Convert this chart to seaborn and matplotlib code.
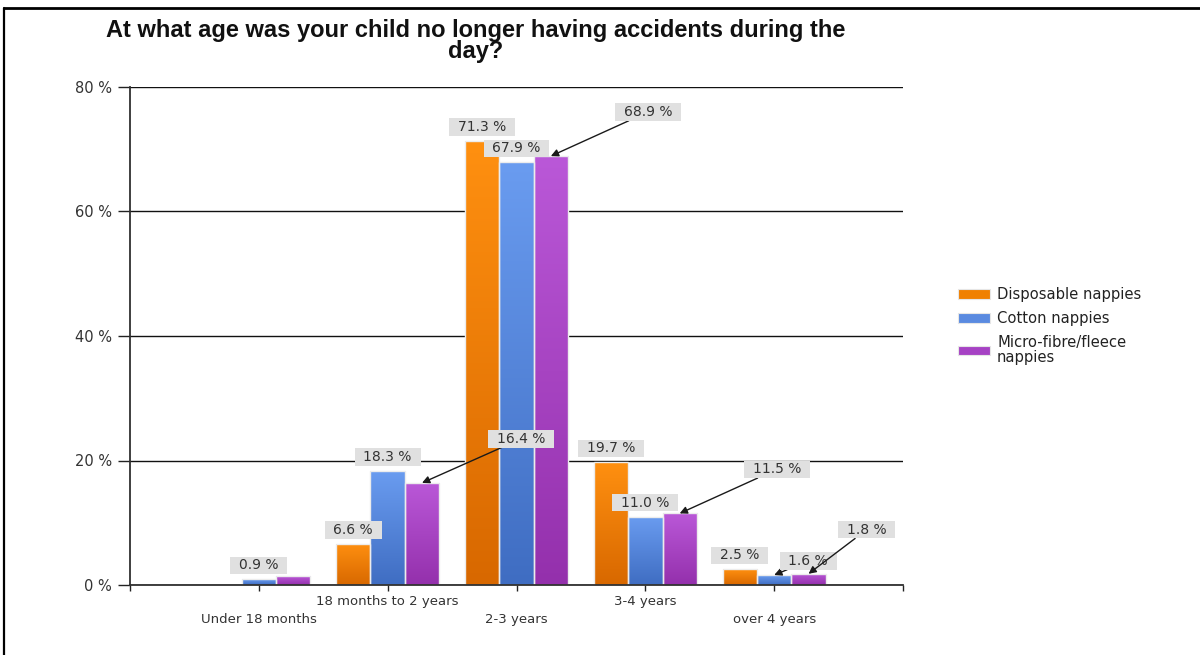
import matplotlib
matplotlib.use("Agg")
import matplotlib.pyplot as plt
import seaborn as sns
import numpy as np
import pandas as pd
from matplotlib.colors import LinearSegmentedColormap
from matplotlib.patches import Patch
from matplotlib.lines import Line2D

# ---------------- data ----------------
categories = ["Under 18 months", "18 months to 2 years", "2-3 years", "3-4 years", "over 4 years"]
series = ["Disposable nappies", "Cotton nappies", "Micro-fibre/fleece nappies"]
disposable = [0.0, 6.6, 71.3, 19.7, 2.5]
cotton = [0.9, 18.3, 67.9, 11.0, 1.6]
microfibre = [1.4, 16.4, 68.9, 11.5, 1.8]
yticks = [0, 20, 40, 60, 80]
ytick_labels = ["0 %", "20 %", "40 %", "60 %", "80 %"]
title = "At what age was your child no longer having accidents during the\nday?"
legend_labels = ["Disposable nappies", "Cotton nappies", "Micro-fibre/fleece\nnappies"]

# ---------------- styling ----------------
top_colors = ["#FF9010", "#6A9CF0", "#BA58D8"]
bottom_colors = ["#D86800", "#3F6DC2", "#9430AC"]
legend_colors = ["#F08000", "#5A8AE0", "#A642C4"]
text_color = "#333333"

# label placement (pixel offsets of label centre from bar top centre)
default_offset = (0, 14, False)
label_offsets = {
    (2, 1): (99, 44, True),
    (2, 2): (97, 44, True),
    (2, 3): (97, 44, True),
    (1, 4): (34, 14, True),
    (2, 4): (58, 44, True),
}
hidden_labels = {(2, 0)}

sns.set_theme(style="white")
plt.rcParams["font.family"] = ["DejaVu Sans"]

df = pd.DataFrame({
    "category": categories * 3,
    "series": [series[0]] * 5 + [series[1]] * 5 + [series[2]] * 5,
    "value": disposable + cotton + microfibre,
})

fig = plt.figure(figsize=(12, 6.55), dpi=100)
ax = fig.add_axes([130 / 1200, 70 / 655, 773 / 1200, 498 / 655])

sns.barplot(data=df, x="category", y="value", hue="series", order=categories,
            hue_order=series, palette=legend_colors, width=0.8, ax=ax,
            edgecolor="#ececec", linewidth=1.0, legend=False, errorbar=None, zorder=2)

grad = np.linspace(0, 1, 256).reshape(-1, 1)
for si, cont in enumerate(ax.containers):
    cmap = LinearSegmentedColormap.from_list(f"g{si}", [bottom_colors[si], top_colors[si]])
    for ci, bar in enumerate(cont):
        h = bar.get_height()
        if h <= 0:
            continue
        x0, y0, w = bar.get_x(), bar.get_y(), bar.get_width()
        im = ax.imshow(grad, cmap=cmap, extent=[x0, x0 + w, y0, y0 + h], origin="lower",
                       aspect="auto", zorder=1.9, interpolation="bilinear")
        im.set_clip_path(bar)
        bar.set_facecolor("none")
        # data label
        if (si, ci) in hidden_labels:
            continue
        dx, dy, arrow = label_offsets.get((si, ci), default_offset)
        xc = x0 + w / 2
        kw = {}
        if arrow:
            kw["arrowprops"] = dict(arrowstyle="-|>", color="#1a1a1a", lw=1.0,
                                    shrinkA=0, shrinkB=0, mutation_scale=11)
        ax.annotate(f"\u2002{h:.1f} %\u2002", xy=(xc, y0 + h), xytext=(dx, dy),
                    textcoords="offset pixels", ha="center", va="center",
                    fontsize=10, color=text_color, zorder=5,
                    bbox=dict(boxstyle="square,pad=0.12", fc="#e0e0e0", ec="none"),
                    **kw)

ax.set_xlim(-1, 5)
ax.set_ylim(0, 80)
ax.set_yticks(yticks)
ax.set_yticklabels(ytick_labels)
ax.set_xticks(range(-1, 6))
xl = [""]
for i, c in enumerate(categories):
    xl.append("\n" + c if i % 2 == 0 else c)
xl.append("")
ax.set_xticklabels(xl)
for lab in ax.get_xticklabels():
    lab.set_linespacing(1.5)
ax.set_xlabel("")
ax.set_ylabel("")

ax.yaxis.grid(True, color="#111111", linewidth=1.0)
ax.set_axisbelow(True)
ax.tick_params(axis="y", length=9, width=1.0, color="#222222", labelsize=10.5,
               labelcolor=text_color, pad=4, left=True)
ax.tick_params(axis="x", length=4.5, width=1.0, color="#222222", labelsize=9.5,
               labelcolor=text_color, pad=3, bottom=True)
for s in ["top", "right"]:
    ax.spines[s].set_visible(False)
for s in ["left", "bottom"]:
    ax.spines[s].set_color("#303030")
    ax.spines[s].set_linewidth(1.3)

# title
fig.text(476 / 1200, 1 - 19 / 655, title, ha="center", va="top", fontsize=17,
         fontweight="bold", family=["Liberation Sans", "DejaVu Sans"], color="#111111",
         linespacing=0.88)

# legend
handles = [Patch(facecolor=c, edgecolor="#e6e6e6", linewidth=0.8) for c in legend_colors]
leg = fig.legend(handles, legend_labels, loc="upper left",
                 bbox_to_anchor=(958 / 1200, 1 - 287 / 655), bbox_transform=fig.transFigure,
                 frameon=False, fontsize=10.6, handlelength=2.15, handleheight=0.65,
                 handletextpad=0.5, labelspacing=0.6, borderpad=0, borderaxespad=0)
for t in leg.get_texts():
    t.set_color("#222222")
    t.set_linespacing(1.0)

# outer frame (top and left edges only)
fig.add_artist(Line2D([4 / 1200, 4 / 1200], [0, 1 - 8 / 655], transform=fig.transFigure,
                      color="#000000", linewidth=1.6))
fig.add_artist(Line2D([4 / 1200, 1], [1 - 8 / 655, 1 - 8 / 655], transform=fig.transFigure,
                      color="#000000", linewidth=2.0))

fig.savefig("out.png", dpi=100)
